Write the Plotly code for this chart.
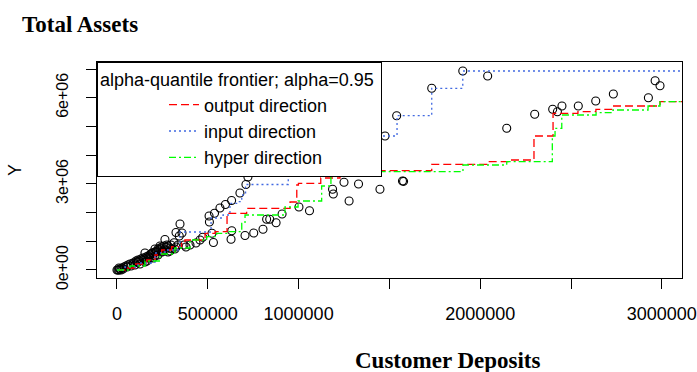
import plotly.graph_objects as go

# ---- data ----
deposits = [
    # upper region
    1540000, 1733000, 1904000, 2041000, 2146000, 2300000, 2399000, 2425000, 2450000,
    2540000, 2636000, 2733000, 2926000, 2963000, 2990000,
    # partly hidden behind legend
    1476000, 1256000, 943000, 721000,
    # middle
    1250000, 1330000, 1572000, 1578000, 1187000, 1191000, 1278000, 1448000, 1002000,
    1060000, 909000, 710000, 677000, 631000, 597000, 567000, 537000, 507000, 509000,
    523000, 531000, 472000, 402000, 347000, 325000, 358000, 343000, 264000, 275000,
    314000, 628000, 632000, 705000, 753000, 804000, 824000, 841000, 876000,
    # dense cluster near origin
    5500, 16500, 28000, 39000, 50000, 61000, 72000, 88000, 105000, 116000, 132000,
    143000, 160000, 171000, 182000, 193000, 209000, 220000, 231000, 242000, 253000,
    264000, 226000, 198000, 165000, 127000, 292000, 303000, 319000, 281000, 182000,
    99000, 369000, 380000, 22000, 11000, 154000, 209000, 237000, 116000, 435000, 457000,
    0, 11000, 33000, 55000, 77000, 94000, 110000, 121000, 138000, 149000, 165000,
    176000, 187000, 198000, 215000, 226000, 237000, 248000, 259000, 270000, 281000,
    297000, 325000, 336000, 154000, 209000, 248000, 292000,
]
assets = [
    5376000, 6331000, 6934000, 6760000, 4937000, 5425000, 5599000, 5516000, 5714000,
    5714000, 5889000, 6132000, 6003000, 6596000, 6422000,
    4669000, 4669000, 3833000, 3240000,
    3056000, 2997000, 3101000, 3088000, 2812000, 2648000, 2404000, 2812000, 2195000,
    2066000, 1951000, 2979000, 2683000, 2422000, 2282000, 2160000, 1976000, 1882000, 1672000,
    1279000, 958000, 1139000, 871000, 1603000, 1307000, 1289000, 1185000, 1063000, 871000,
    951000, 1070000, 1369000, 1202000, 1289000, 1422000, 1767000, 1767000, 1648000,
    0, 35000, 70000, 105000, 139000, 174000, 209000, 244000, 314000, 348000, 383000,
    418000, 453000, 488000, 523000, 592000, 627000, 662000, 697000, 732000, 662000,
    697000, 523000, 418000, 314000, 209000, 767000, 732000, 732000, 627000, 418000,
    174000, 871000, 801000, 0, 70000, 592000, 732000, 836000, 279000, 941000, 1045000,
    0, 0, 35000, 105000, 139000, 244000, 279000, 314000, 348000, 383000, 418000,
    453000, 557000, 592000, 627000, 732000, 767000, 801000, 836000, 801000, 836000,
    871000, 801000, 871000, 279000, 488000, 627000, 662000,
]

# frontier step points (x where the step occurs, level after the step)
output_x = [0, 44000, 99000, 164000, 209000, 246000, 301000, 356000, 374000, 485000,
            540000, 606000, 714000, 953000, 990000, 999000, 1122000, 1228000, 1733000,
            2036000, 2164000, 2296000, 2401000, 2538000, 2637000, 2731000, 2990000, 3200000]
output_y = [0, 70000, 209000, 348000, 523000, 697000, 812000, 930000, 1045000, 1279000,
            1334000, 1976000, 2150000, 2369000, 2962000, 3021000, 3206000, 3460000, 3683000,
            3774000, 3833000, 4669000, 5460000, 5516000, 5599000, 5714000, 5864000, 5864000]

input_x = [0, 44000, 116000, 209000, 264000, 347000, 518000, 584000, 622000, 669000,
           687000, 708000, 943000, 1256000, 1542000, 1733000, 1904000, 3200000]
input_y = [0, 105000, 244000, 592000, 697000, 1324000, 1812000, 1916000, 2324000, 2380000,
           2613000, 2979000, 3833000, 4669000, 5376000, 6331000, 6934000, 6934000]

hyper_x = [0, 72000, 154000, 237000, 319000, 402000, 494000, 549000, 604000, 687000,
           705000, 925000, 997000, 1127000, 1178000, 1217000, 1905000, 2146000, 2397000,
           2412000, 2449000, 2638000, 2731000, 2924000, 2990000, 3200000]
hyper_y = [0, 139000, 314000, 557000, 767000, 1045000, 1160000, 1279000, 1334000, 1627000,
           1916000, 2195000, 2404000, 2927000, 3275000, 3425000, 3659000, 3774000, 4669000,
           4937000, 5401000, 5481000, 5575000, 5714000, 5864000, 5864000]

x_tick_vals = [0, 500000, 1000000, 1500000, 2000000, 2500000, 3000000]
x_tick_text = ["0", "500000", "1000000", "", "2000000", "", "3000000"]
y_tick_vals = [0, 1000000, 2000000, 3000000, 4000000, 5000000, 6000000, 7000000]
y_tick_text = ["0e+00", "", "", "3e+06", "", "", "6e+06", ""]

SANS = "Liberation Sans, Arial, sans-serif"
SERIF = "Liberation Serif, Times New Roman, serif"

fig = go.Figure()
fig.add_trace(go.Scatter(
    x=deposits, y=assets, mode="markers", showlegend=False,
    marker=dict(symbol="circle-open", size=8, color="black", line=dict(width=1.1)),
))
fig.add_trace(go.Scatter(
    x=output_x, y=output_y, mode="lines", name="output direction",
    line=dict(shape="hv", color="#FF0000", width=1.3, dash="8px,4px"),
))
fig.add_trace(go.Scatter(
    x=input_x, y=input_y, mode="lines", name="input direction",
    line=dict(shape="hv", color="#4169E1", width=1.3, dash="2px,3px"),
))
fig.add_trace(go.Scatter(
    x=hyper_x, y=hyper_y, mode="lines", name="hyper direction",
    line=dict(shape="hv", color="#00FF00", width=1.3, dash="7px,3px,2px,3px"),
))

axis_common = dict(
    showgrid=False, zeroline=False, showline=True, linecolor="black", linewidth=1,
    mirror=True, ticks="outside", ticklen=10, tickcolor="black", tickwidth=1,
    automargin=False,
)
fig.update_xaxes(
    range=[-110000, 3111000], tickmode="array", tickvals=x_tick_vals, ticktext=x_tick_text,
    tickfont=dict(family=SANS, size=18, color="black"), ticklabelstandoff=9, **axis_common,
)
fig.update_yaxes(
    range=[-279000, 7247000], tickmode="array", tickvals=y_tick_vals, ticktext=y_tick_text,
    tickangle=-90, tickfont=dict(family=SANS, size=16, color="black"), ticklabelstandoff=12,
    **axis_common,
)

fig.update_layout(
    width=697, height=372,
    margin=dict(l=97, r=15, t=62, b=94, autoexpand=False),
    paper_bgcolor="white", plot_bgcolor="white",
    title=dict(text="<b>Total Assets</b>", x=22 / 697, xanchor="left", xref="container",
               y=1 - 24 / 372, yanchor="middle", yref="container",
               font=dict(family=SERIF, size=23, color="black")),
    legend=dict(
        x=0, y=1, xanchor="left", yanchor="top", bgcolor="white",
        bordercolor="black", borderwidth=1, indentation=66,
        font=dict(family=SANS, size=18, color="black"),
        title=dict(text="alpha-quantile frontier; alpha=0.95 ", side="top",
                   font=dict(family=SANS, size=18, color="black")),
        tracegroupgap=0,
    ),
    annotations=[
        dict(text="<b>Customer Deposits</b>", xref="paper", yref="paper",
             x=(448 - 97) / 585, y=(278 - 360) / 216, xanchor="center", yanchor="middle",
             showarrow=False, font=dict(family=SERIF, size=23, color="black")),
        dict(text="Y", xref="paper", yref="paper", x=(15 - 97) / 585, y=0.5,
             xanchor="center", yanchor="middle", textangle=-90, showarrow=False,
             font=dict(family=SANS, size=18, color="black")),
    ],
)

# remove the default page margin so the figure sits at the window's top-left corner
fig.write_html("out.html", config={"displayModeBar": False},
               post_script="document.body.style.margin='0';")
